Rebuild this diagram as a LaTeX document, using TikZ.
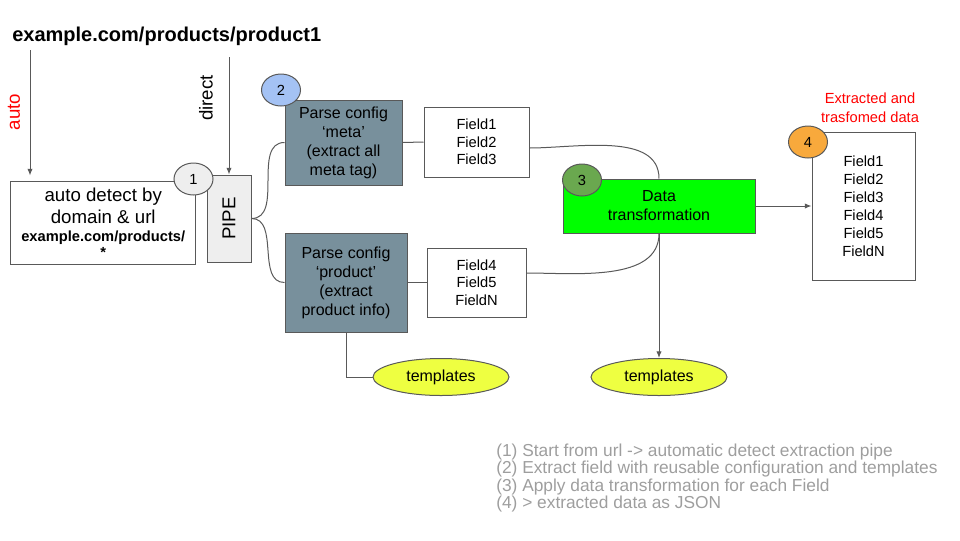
\documentclass[tikz,border=0pt]{standalone}
\usepackage{fontspec}
\setmainfont{Liberation Sans}
\usetikzlibrary{arrows.meta,calc,shapes.geometric}
\definecolor{ln}{HTML}{595959}
\definecolor{slate}{HTML}{78909C}
\definecolor{tgreen}{HTML}{00FF00}
\definecolor{tyellow}{HTML}{EEFF41}
\definecolor{bgray}{HTML}{EEEEEE}
\definecolor{bblue}{HTML}{A4C2F4}
\definecolor{bgreen}{HTML}{6AA84F}
\definecolor{borange}{HTML}{F8A93C}
\definecolor{legend}{HTML}{9E9E9E}
\definecolor{tred}{HTML}{FF0000}
\begin{document}
\begin{tikzpicture}[x=0.75pt,y=0.75pt,
  box/.style={draw=ln, line width=0.75pt, inner sep=0pt, align=center},
  conn/.style={draw=ln, line width=0.75pt},
  arr/.style={conn, -{Latex[length=5pt,width=4pt]}},
  badge/.style={ellipse, draw=ln, line width=0.75pt, minimum width=29.25pt, minimum height=24pt, inner sep=0pt, font=\fontsize{11}{13}\selectfont},
  tmpl/.style={ellipse, draw=ln, line width=0.75pt, fill=tyellow, minimum width=102pt, minimum height=27.75pt, inner sep=0pt, font=\fontsize{12}{14}\selectfont},
  fields/.style={box, font=\fontsize{11}{13}\selectfont},
  parse/.style={box, fill=slate, font=\fontsize{12}{14.3}\selectfont}
]
\useasboundingbox (0,0) rectangle (960,-540);

% title
\node[anchor=base west, inner sep=0pt, font=\fontsize{15}{18}\selectfont\bfseries] (title) at (12,-41) {example.com/products/product1};

% free ends of the two entry arrows
\coordinate (autoTop) at (30,-50);
\coordinate (autoEnd) at (30,-175.5);
\coordinate (directTop) at (229,-57);

% labels of entry arrows
\node[rotate=90, inner sep=0pt, text=tred, font=\fontsize{14}{16}\selectfont] (autolbl) at (14,-112) {auto};
\node[rotate=90, inner sep=0pt, font=\fontsize{14}{16}\selectfont] (directlbl) at (206,-98) {direct};

% boxes
\node[box, minimum width=139.1pt, minimum height=62.25pt, font=\fontsize{14}{16.5}\selectfont] (detect) at (103.25,-222.5)
  {auto detect by\\domain \& url\\[-3pt]\fontsize{11}{12}\selectfont\bfseries example.com/products/\\[-4.5pt]\fontsize{11}{12}\selectfont\bfseries *};
\node[box, fill=bgray, minimum width=33pt, minimum height=65.25pt] (pipe) at (229,-218.5) {};
\node[rotate=90, inner sep=0pt, font=\fontsize{14}{16}\selectfont] (pipetxt) at (pipe.center) {PIPE};

\node[parse, minimum width=87.75pt, minimum height=63.75pt] (meta) at (343.5,-142.5)
  {Parse config\\‘meta’\\(extract all\\meta tag)};
\node[parse, minimum width=91.5pt, minimum height=74.25pt] (product) at (346,-282.5)
  {Parse config\\‘product’\\(extract\\product info)};

\node[fields, minimum width=78.75pt, minimum height=52.5pt] (f1) at (476.5,-142) {Field1\\Field2\\Field3};
\node[fields, minimum width=74.25pt, minimum height=51.75pt] (f4) at (476.5,-282.5) {Field4\\Field5\\FieldN};

\node[box, fill=tgreen, minimum width=144pt, minimum height=40.5pt, font=\fontsize{12}{14.3}\selectfont] (green) at (659,-206)
  {Data\\transformation};

\node[box, minimum width=77.25pt, minimum height=111pt, font=\fontsize{11}{13.5}\selectfont] (out) at (863.5,-206)
  {Field1\\Field2\\Field3\\Field4\\Field5\\FieldN};
\node[align=center, inner sep=0pt, text=tred, font=\fontsize{11}{14.25}\selectfont] (outlbl) at (870,-107.5)
  {Extracted and\\trasfomed data};

\node[tmpl] (t1) at (441,-377) {templates};
\node[tmpl] (t2) at (659,-377) {templates};

% badges
\node[badge, fill=bgray] (c1) at (193.5,-179) {1};
\node[badge, fill=bblue] (c2) at (281,-90) {2};
\node[badge, fill=bgreen] (c3) at (582,-180) {3};
\node[badge, fill=borange] (c4) at (808,-142) {4};

% connectors
\draw[arr] (autoTop) -- (autoEnd);
\draw[arr] (directTop) -- (pipe.north);
\draw[conn] (pipe.east) to[out=0,in=180] (meta.west);
\draw[conn] (pipe.east) to[out=0,in=180] (product.west);
\draw[conn] (meta.east) -- (f1.west);
\draw[conn] (product.east) -- (f4.west);
\draw[conn] ($(f1.east)+(0,-6)$) to[out=0,in=90,looseness=0.9] (green.north);
\draw[conn] ($(f4.east)+(0,9.5)$) to[out=0,in=-90,looseness=0.9] (green.south);
\draw[arr] (green.east) -- (out.west);
\draw[arr] (green.south) -- (t2.north);
\draw[conn] (product.south) |- (t1.west);

% legend
\begin{scope}[every node/.style={anchor=base west, inner sep=0pt, text=legend, font=\fontsize{13}{15}\selectfont}]
\node (leg1) at (496,-456) {(1) Start from url -> automatic detect extraction pipe};
\node (leg2) at (496,-473.6) {(2) Extract field with reusable configuration and templates};
\node (leg3) at (496,-491.2) {(3) Apply data transformation for each Field};
\node (leg4) at (496,-508.8) {(4) > extracted data as JSON};
\end{scope}
\end{tikzpicture}
\end{document}
